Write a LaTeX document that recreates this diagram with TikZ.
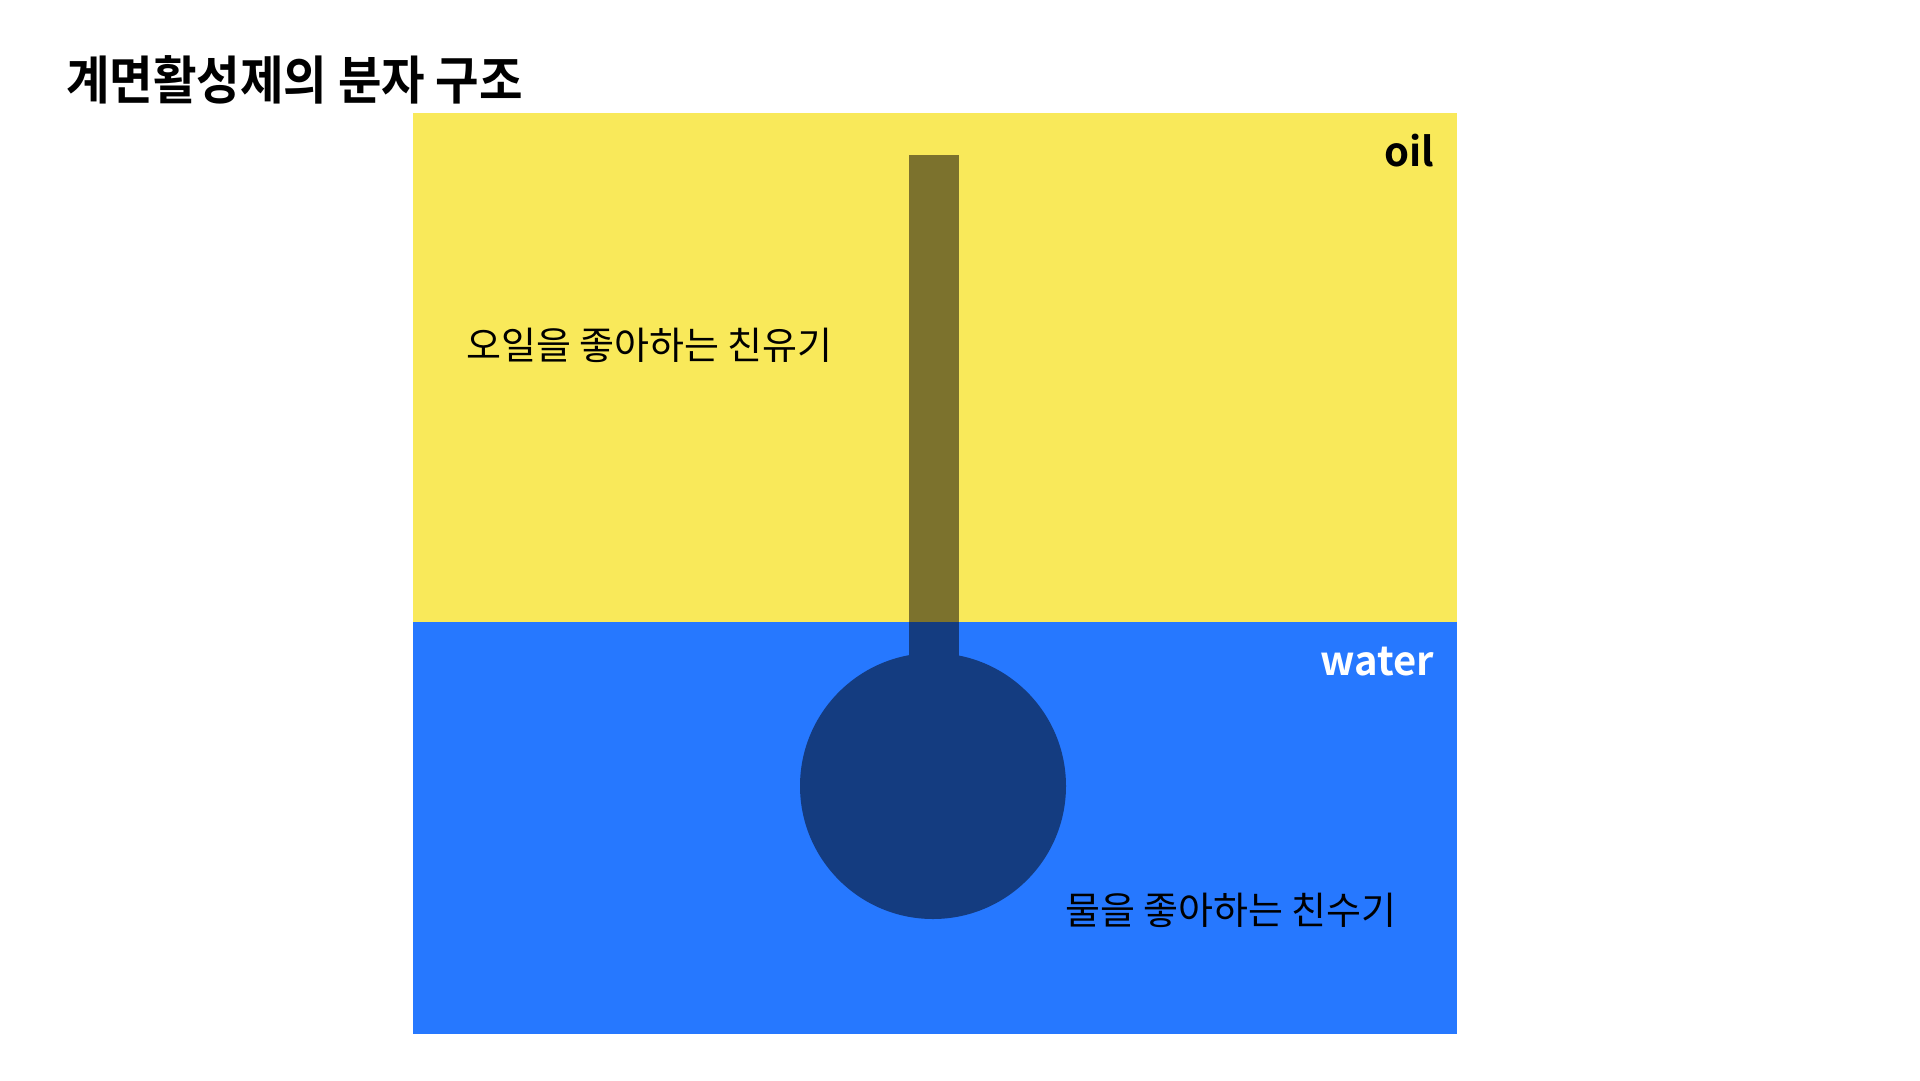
\documentclass[tikz,border=0pt]{standalone}
\usepackage{fontspec}
\setmainfont{Noto Sans CJK KR}
\newfontfamily\krbold[FakeStretch=0.91]{Noto Sans CJK KR Bold}
\newfontfamily\labbold{Noto Sans CJK KR Bold}
\definecolor{oilyellow}{HTML}{F9E95A}
\definecolor{waterblue}{HTML}{2678FF}
\definecolor{tailolive}{HTML}{7C722D}
\definecolor{headblue}{HTML}{143C80}
\tikzset{
  lbl/.style={inner sep=0pt, font=\fontsize{38}{44}\selectfont, text=black},
  phase/.style={inner sep=0pt, font=\labbold\fontsize{40}{44}\selectfont},
}
\begin{document}
\begin{tikzpicture}[x=1pt,y=-1pt]
\useasboundingbox (0,0) rectangle (1920,1080);
\fill[white] (0,0) rectangle (1920,1080);
% phases
\fill[oilyellow] (413,113) rectangle (1457,622);
\fill[waterblue] (413,622) rectangle (1457,1034);
% surfactant
\fill[tailolive] (909,155) rectangle (959,622);
\fill[headblue] (909,622) rectangle (959,680);
\fill[headblue] (933,786) circle[radius=133];
% texts
\node[inner sep=0pt, anchor=base west, font=\krbold\fontsize{52}{60}\selectfont] (title) at (66,99) {계면활성제의 분자 구조};
\node[phase, anchor=base east, text=black] (oil) at (1434,166) {oil};
\node[phase, anchor=base east, text=white] (water) at (1434,675) {water};
\node[lbl, anchor=base west] (lipo) at (466,359) {오일을 좋아하는 친유기};
\node[lbl, anchor=base west] (hydro) at (1065,924) {물을 좋아하는 친수기};
\end{tikzpicture}
\end{document}
